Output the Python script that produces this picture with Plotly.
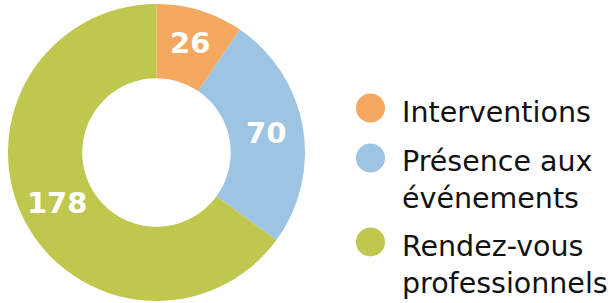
import plotly.graph_objects as go

categories = ["Interventions", "Présence aux<br>événements", "Rendez-vous<br>professionnels"]
values = [26, 70, 178]
colors = ["#F4A860", "#9EC4E4", "#BFC74E"]

W, H = 615, 303
fig = go.Figure()
fig.add_trace(go.Pie(
    labels=categories, values=values, hole=0.5, sort=False, direction="clockwise",
    rotation=0, marker=dict(colors=colors, line=dict(width=0)),
    textinfo="value", textposition="inside", insidetextorientation="horizontal",
    insidetextfont=dict(family="DejaVu Sans", size=29, color="white", weight="bold"),
    domain=dict(x=[0, 297 / 607], y=[0, 1]), showlegend=False, hoverinfo="skip",
))

# legend drawn as shapes + annotations
circle_y = [108, 158, 242]
text_top = [94, 143, 228]
for cy, ty, c, lab in zip(circle_y, text_top, colors, categories):
    fig.add_shape(type="circle", xref="paper", yref="paper",
                  x0=(356 - 8) / 607, x1=(385 - 8) / 607,
                  y0=1 - (cy + 14.5 - 4) / 297, y1=1 - (cy - 14.5 - 4) / 297,
                  fillcolor=c, line=dict(width=0))
    fig.add_annotation(text=lab, xref="paper", yref="paper",
                       x=(400 - 8) / 607, y=1 - (ty - 4) / 297,
                       xanchor="left", yanchor="top", align="left", showarrow=False,
                       font=dict(family="DejaVu Sans", size=28.5, color="#111111"))

fig.update_layout(width=W, height=H, margin=dict(l=8, r=0, t=4, b=2),
                  paper_bgcolor="white", plot_bgcolor="white")
fig.write_html("out.html", config={"displayModeBar": False},
               post_script="document.body.style.margin='0';document.body.style.overflow='hidden';")
